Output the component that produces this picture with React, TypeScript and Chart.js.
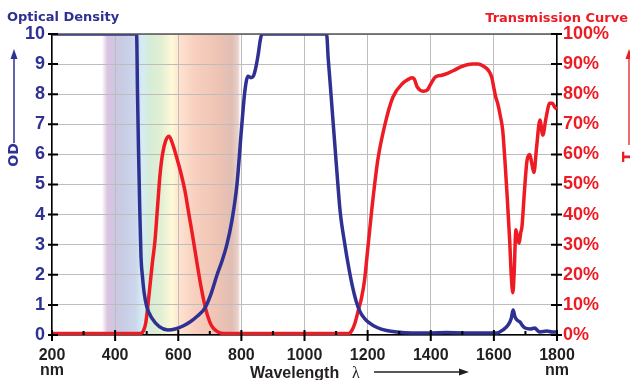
import React, { useEffect, useRef } from "react";
import { Chart, registerables } from "chart.js";

Chart.register(...registerables);

// ---------- data ----------
const odWavelengths = [
  200, 460, 468, 471, 474, 478, 482, 487, 492, 500, 517, 540, 567, 590, 615, 637, 660, 685, 705, 723,
  740, 754, 770, 786, 800, 811, 821, 830, 838, 845, 853, 860, 865, 1070, 1075, 1081, 1089, 1097, 1105,
  1113, 1128, 1140, 1151, 1163, 1176, 1190, 1202, 1230, 1260, 1293, 1340, 1400, 1450, 1500, 1560, 1610,
  1629, 1645, 1655, 1661, 1667, 1673, 1683, 1690, 1699, 1715, 1730, 1738, 1746, 1768, 1785, 1800,
];
const odValues = [
  10, 10, 10, 8, 6.2, 4.2, 2.6, 1.9, 1.4, 0.95, 0.55, 0.28, 0.17, 0.2, 0.3, 0.43, 0.62, 0.9, 1.4, 2.0,
  2.5, 3.0, 3.8, 5.0, 6.8, 8.1, 8.6, 8.55, 8.6, 8.85, 9.3, 9.8, 10, 10, 9.2, 8.4, 7.3, 6.2, 5.1,
  4.1, 3.0, 2.25, 1.66, 1.15, 0.77, 0.55, 0.43, 0.25, 0.15, 0.1, 0.07, 0.07, 0.08, 0.07, 0.07, 0.07,
  0.17, 0.33, 0.55, 0.83, 0.6, 0.5, 0.43, 0.32, 0.23, 0.2, 0.23, 0.15, 0.1, 0.13, 0.1, 0.1,
];

const tWavelengths = [
  200, 480, 490, 497, 503, 510, 518, 526, 534, 542, 550, 560, 571, 582, 595, 608, 621, 634, 647, 660,
  673, 686, 700, 713, 726, 745, 1140, 1150, 1160, 1170, 1180, 1190, 1197, 1213, 1232, 1255, 1280, 1312,
  1330, 1341, 1348, 1357, 1376, 1390, 1398, 1406, 1414, 1435, 1455, 1475, 1493, 1515, 1534, 1550, 1566,
  1582, 1593, 1600, 1606, 1612, 1620, 1628, 1635, 1641, 1650, 1655, 1660, 1664, 1670, 1675, 1680, 1685,
  1689, 1697, 1705, 1714, 1720, 1727, 1735, 1746, 1755, 1765, 1777, 1785, 1793, 1800,
];
const tValues = [
  0.5, 0.5, 1.5, 4, 9, 16, 24, 31, 42, 53, 60, 64.5, 66, 63.5, 59, 54, 48, 40, 32, 23.5,
  15.6, 9, 4.3, 2, 1, 0.5, 0.5, 1.5, 4, 8, 12, 18, 25, 41.5, 58, 70, 79, 83.7,
  85, 85.5, 85, 82.4, 81, 81.5, 83, 84.5, 85.7, 86.3, 87, 88, 89, 89.8, 90, 90, 89.4,
  88, 85.7, 82, 79, 77, 73, 68, 58, 48, 31.5, 20, 14, 20, 35, 32, 30.5, 34,
  36, 48, 58, 60, 57, 54, 62, 71.4, 66.4, 72, 77, 77, 75.7, 75,
];

const xTickValues = [200, 400, 600, 800, 1000, 1200, 1400, 1600, 1800];
const odTickValues = [0, 1, 2, 3, 4, 5, 6, 7, 8, 9, 10];
const tTickValues = [0, 10, 20, 30, 40, 50, 60, 70, 80, 90, 100];

// visible spectrum band (nm, colour)
const spectrumNm = [358, 375, 395, 425, 465, 485, 510, 545, 580, 605, 650, 720, 770, 790, 800];
const spectrumColors = [
  "rgba(222,200,226,0)", "#dcc4e0", "#cfc6e2", "#c8cce5", "#ccd7ec", "#d4ecf5", "#d6ecd8",
  "#e2efd3", "#fdf9d6", "#fde2cf", "#f8d0bf", "#efc4b4", "#e0beb3", "#ead3cc", "rgba(255,255,255,0)",
];

const BLUE = "#2e3192";
const RED = "#ed1c24";
const DARK = "#231f20";
const FONT = "'Liberation Sans', Arial, sans-serif";
const TITLE_FONT = "'DejaVu Sans', 'Liberation Sans', sans-serif";

const decorPlugin = {
  id: "decor",
  beforeDraw(chart: any) {
    const { ctx, chartArea, scales } = chart;
    const x = scales.x;
    const a = x.getPixelForValue(spectrumNm[0]);
    const b = x.getPixelForValue(spectrumNm[spectrumNm.length - 1]);
    const g = ctx.createLinearGradient(a, 0, b, 0);
    spectrumNm.forEach((nm, i) => {
      g.addColorStop((nm - spectrumNm[0]) / (spectrumNm[spectrumNm.length - 1] - spectrumNm[0]), spectrumColors[i]);
    });
    ctx.save();
    ctx.fillStyle = g;
    ctx.fillRect(a, chartArea.top, b - a, chartArea.bottom - chartArea.top);
    ctx.restore();
  },
  afterDatasetsDraw(chart: any) {
    const { ctx, chartArea, scales } = chart;
    const { left, right, top, bottom } = chartArea;
    ctx.save();
    ctx.strokeStyle = "#555";
    ctx.lineWidth = 1.5;
    ctx.beginPath();
    ctx.moveTo(left, top);
    ctx.lineTo(right, top);
    ctx.stroke();
    ctx.strokeStyle = "#000";
    ctx.lineWidth = 2;
    ctx.beginPath();
    odTickValues.forEach((v) => {
      const y = scales.y.getPixelForValue(v);
      ctx.moveTo(left - 4, y);
      ctx.lineTo(left + 6, y);
    });
    tTickValues.forEach((v) => {
      const y = scales.y1.getPixelForValue(v);
      ctx.moveTo(right - 6, y);
      ctx.lineTo(right + 5, y);
    });
    for (let v = 200; v <= 1800; v += 100) {
      const xx = scales.x.getPixelForValue(v);
      if (v % 200 === 0) {
        ctx.moveTo(xx, bottom - 5);
        ctx.lineTo(xx, bottom + 6);
      } else {
        ctx.moveTo(xx, bottom - 4);
        ctx.lineTo(xx, bottom);
      }
    }
    ctx.stroke();
    ctx.restore();
  },
  afterDraw(chart: any) {
    const { ctx } = chart;
    ctx.save();
    ctx.textBaseline = "alphabetic";
    ctx.font = `bold 13px ${TITLE_FONT}`;
    ctx.fillStyle = BLUE;
    ctx.textAlign = "left";
    ctx.fillText("Optical Density", 7, 21);
    ctx.fillStyle = RED;
    ctx.textAlign = "right";
    ctx.fillText("Transmission Curve", 628, 22);

    // left axis title OD with arrow
    ctx.save();
    ctx.translate(14, 155);
    ctx.rotate(-Math.PI / 2);
    ctx.font = `bold 14px ${TITLE_FONT}`;
    ctx.fillStyle = BLUE;
    ctx.textAlign = "center";
    ctx.textBaseline = "middle";
    ctx.fillText("OD", 0, 0);
    ctx.restore();
    ctx.strokeStyle = BLUE;
    ctx.fillStyle = BLUE;
    ctx.lineWidth = 1.5;
    ctx.beginPath();
    ctx.moveTo(14, 143);
    ctx.lineTo(14, 56);
    ctx.stroke();
    ctx.beginPath();
    ctx.moveTo(14, 49);
    ctx.lineTo(10.5, 59);
    ctx.lineTo(17.5, 59);
    ctx.closePath();
    ctx.fill();

    // right axis title T with arrow
    ctx.save();
    ctx.translate(630, 157);
    ctx.rotate(-Math.PI / 2);
    ctx.font = `bold 15px ${TITLE_FONT}`;
    ctx.fillStyle = RED;
    ctx.textAlign = "center";
    ctx.textBaseline = "middle";
    ctx.fillText("T", 0, 0);
    ctx.restore();
    ctx.strokeStyle = "#f26b70";
    ctx.fillStyle = RED;
    ctx.lineWidth = 2;
    ctx.beginPath();
    ctx.moveTo(629, 145);
    ctx.lineTo(629, 56);
    ctx.stroke();
    ctx.beginPath();
    ctx.moveTo(629, 49);
    ctx.lineTo(625.5, 59);
    ctx.lineTo(632.5, 59);
    ctx.closePath();
    ctx.fill();

    // bottom axis title
    ctx.font = `bold 16px ${FONT}`;
    ctx.fillStyle = DARK;
    ctx.textAlign = "left";
    ctx.textBaseline = "alphabetic";
    ctx.fillText("Wavelength", 250, 378);
    ctx.font = `16px 'Liberation Serif', 'DejaVu Serif', serif`;
    ctx.fillText("λ", 352, 378);
    ctx.strokeStyle = DARK;
    ctx.lineWidth = 1.5;
    ctx.beginPath();
    ctx.moveTo(374, 372);
    ctx.lineTo(461, 372);
    ctx.stroke();
    ctx.beginPath();
    ctx.moveTo(469, 372);
    ctx.lineTo(459, 368.5);
    ctx.lineTo(459, 375.5);
    ctx.closePath();
    ctx.fill();
    ctx.restore();
  },
};

export default function App() {
  const ref = useRef<HTMLCanvasElement | null>(null);

  useEffect(() => {
    document.body.style.margin = "0";
    const canvas = ref.current;
    if (!canvas) return;
    const chart = new Chart(canvas, {
      type: "line",
      data: {
        datasets: [
          {
            label: "Optical Density",
            data: odWavelengths.map((w, i) => ({ x: w, y: odValues[i] })),
            yAxisID: "y",
            borderColor: BLUE,
            borderWidth: 3.5,
            pointRadius: 0,
            fill: false,
            cubicInterpolationMode: "monotone",
          },
          {
            label: "Transmission Curve",
            data: tWavelengths.map((w, i) => ({ x: w, y: tValues[i] })),
            yAxisID: "y1",
            borderColor: RED,
            borderWidth: 3.5,
            pointRadius: 0,
            fill: false,
            cubicInterpolationMode: "monotone",
          },
        ],
      },
      options: {
        animation: false,
        responsive: false,
        events: [],
        layout: { padding: { top: 34, left: 0, right: 0, bottom: 0 } },
        plugins: {
          legend: { display: false },
          tooltip: { enabled: false },
          title: { display: false },
        },
        scales: {
          x: {
            type: "linear",
            min: 200,
            max: 1800,
            afterBuildTicks: (s: any) => {
              s.ticks = xTickValues.map((v) => ({ value: v }));
            },
            afterFit: (s: any) => {
              s.height = 45;
            },
            ticks: {
              autoSkip: false,
              maxRotation: 0,
              padding: 13,
              color: DARK,
              font: { family: FONT, size: 16, weight: "bold", lineHeight: 0.95 },
              callback: (v: any) => (v === 200 || v === 1800 ? [String(v), "nm"] : String(v)),
            },
            grid: { color: "#bdbdbd", lineWidth: 1, drawTicks: false },
            border: { color: "#000", width: 1.5 },
          },
          y: {
            position: "left",
            min: 0,
            max: 10,
            afterBuildTicks: (s: any) => {
              s.ticks = odTickValues.map((v) => ({ value: v }));
            },
            afterFit: (s: any) => {
              s.width = 52;
            },
            ticks: {
              padding: 7,
              color: BLUE,
              font: { family: FONT, size: 18, weight: "bold" },
            },
            grid: { color: "#bdbdbd", lineWidth: 1, drawTicks: false },
            border: { color: "#000", width: 1.5 },
          },
          y1: {
            position: "right",
            min: 0,
            max: 100,
            afterBuildTicks: (s: any) => {
              s.ticks = tTickValues.map((v) => ({ value: v }));
            },
            afterFit: (s: any) => {
              s.width = 73;
            },
            ticks: {
              padding: 6,
              color: RED,
              font: { family: FONT, size: 18, weight: "bold" },
              callback: (v: any) => `${v}%`,
            },
            grid: { display: false, drawTicks: false },
            border: { color: "#000", width: 1.5 },
          },
        },
      },
      plugins: [decorPlugin],
    } as any);
    return () => chart.destroy();
  }, []);

  return (
    <div style={{ width: 630, height: 380 }}>
      <canvas ref={ref} width={630} height={380} style={{ display: "block", width: 630, height: 380 }} />
    </div>
  );
}
